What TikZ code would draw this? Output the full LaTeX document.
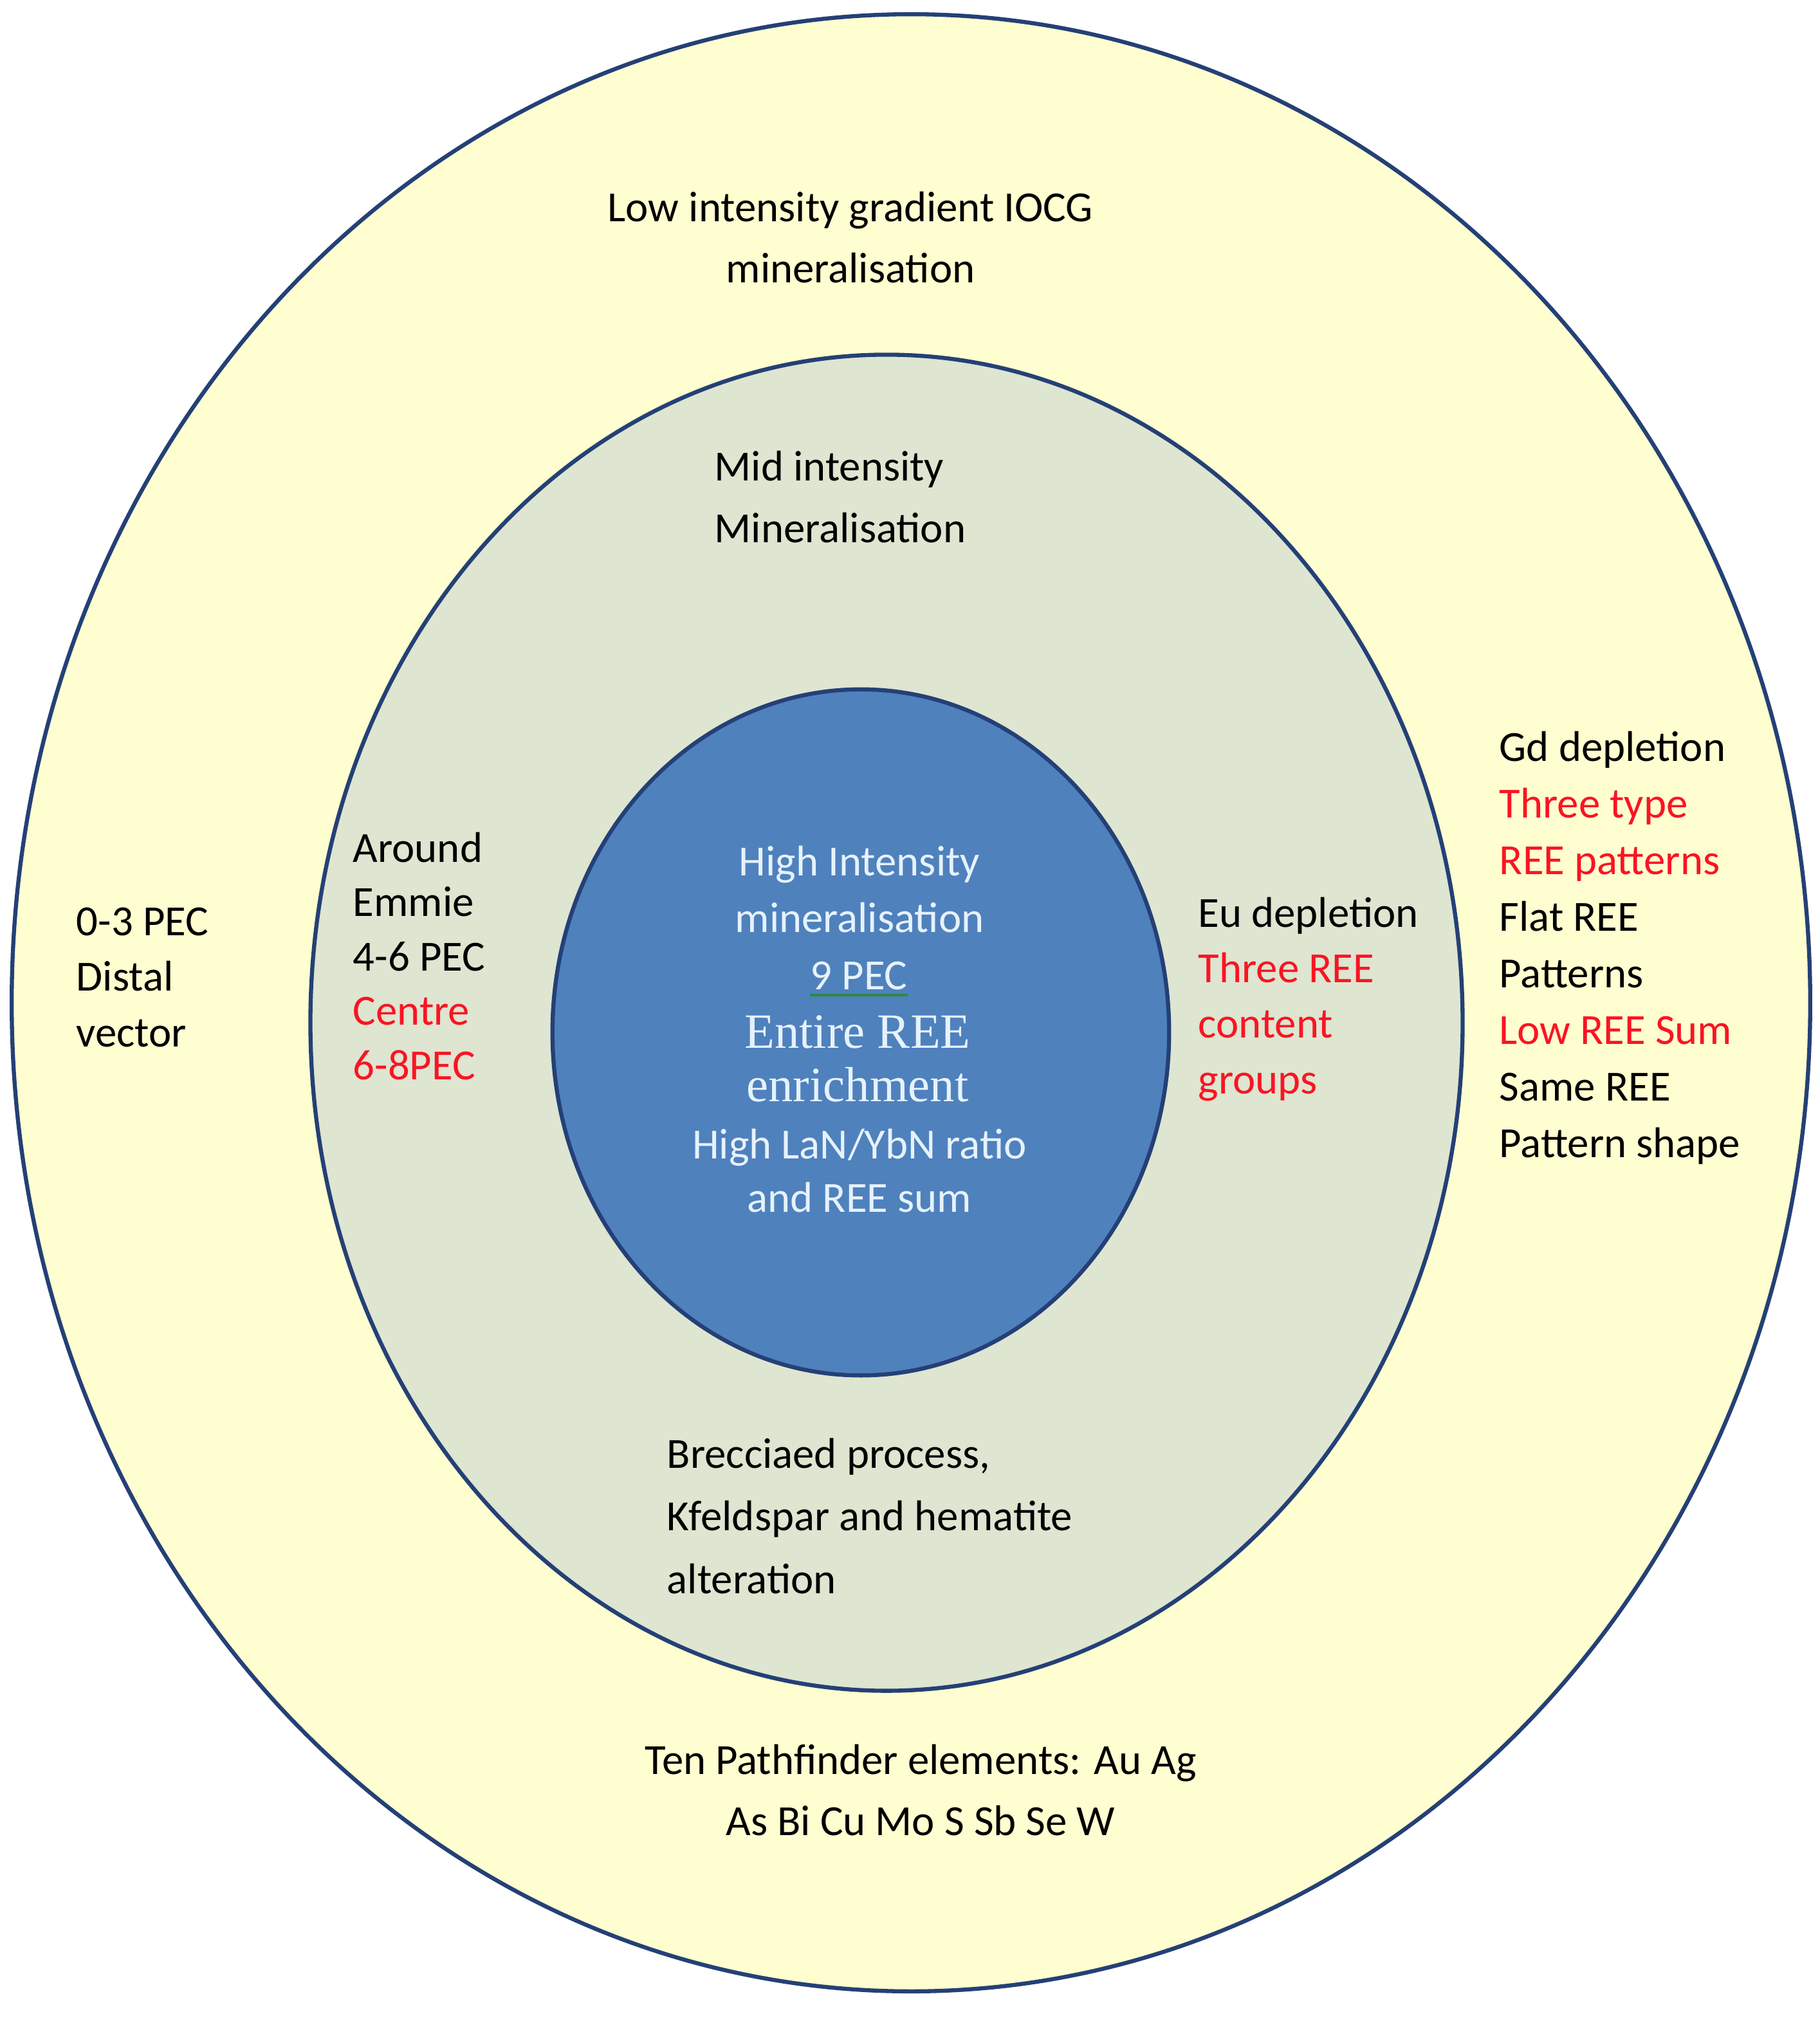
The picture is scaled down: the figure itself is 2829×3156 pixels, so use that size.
\documentclass[tikz,border=0pt]{standalone}
\usepackage{fontspec}
\setmainfont{Carlito}
\newfontfamily\serifface{Liberation Serif}
\usepackage{tikz}
\definecolor{rim}{RGB}{36,64,118}
\definecolor{outerzone}{RGB}{255,254,208}
\definecolor{midzone}{RGB}{222,229,208}
\definecolor{corezone}{RGB}{79,129,189}
\definecolor{corefg}{RGB}{230,242,252}
\definecolor{alert}{RGB}{250,20,35}
\definecolor{squiggle}{RGB}{40,140,60}
\tikzset{%
  zone/.style={draw=rim, line width=1.8pt},% ring outline
  ringtext/.style={inner sep=0pt, anchor=base west, align=left,
    font=\fontsize{19}{#1}\selectfont},% black labels in the rings
  ringtext/.default=24.5,
  centretext/.style={ringtext=#1, anchor=base, align=center},% centred labels
  coretext/.style={centretext=#1, text=corefg},% labels on the blue core
  coreserif/.style={coretext=#1, font=\serifface\fontsize{21.8}{#1}\selectfont}% big serif line
}
\newcommand*{\hot}[1]{{\color{alert}#1}}

\begin{document}
\begin{tikzpicture}[x=0.01cm, y=-0.01cm]
\useasboundingbox (0,0) rectangle (2829,3156);
\fill[white] (0,0) rectangle (2829,3156);

\draw[zone, fill=outerzone] (1416,1559) ellipse [x radius=13.97cm, y radius=15.36cm];
\draw[zone, fill=midzone] (1378,1590) ellipse [x radius=8.95cm, y radius=10.38cm];
\draw[zone, fill=corezone] (1338,1605) ellipse [x radius=4.79cm, y radius=5.33cm];

% nodes sit on the baseline of their last line
\node[centretext=27] (low) at (1322,439) {Low intensity gradient IOCG\\mineralisation};
\node[ringtext=27.3] (mid) at (1110,843) {Mid intensity\\Mineralisation};
\node[ringtext=24.5] (distal) at (118,1627) {0-3 PEC\\Distal\\vector};
\node[ringtext=24] (emmie) at (548,1678) {Around\\Emmie\\4-6 PEC\\\hot{Centre}\\\hot{6-8PEC}};
\node[ringtext=24.5] (eu) at (1862,1700) {Eu depletion\\\hot{Three REE}\\\hot{content}\\\hot{groups}};
\node[ringtext=25] (gd) at (2330,1799) {Gd depletion\\\hot{Three type}\\\hot{REE patterns}\\Flat REE\\Patterns\\\hot{Low REE Sum}\\Same REE\\Pattern shape};
\node[ringtext=27.6] (breccia) at (1036,2477) {Brecciaed process,\\Kfeldspar and hematite\\alteration};
\node[centretext=26.75] (path) at (1431,2853) {Ten Pathfinder elements: Au Ag\\As Bi Cu Mo S Sb Se W};

\node[coretext=24.75] (high) at (1336,1449) {High Intensity\\mineralisation};
\node[coretext] (nine) at (1335,1538) {9 PEC};
\draw[squiggle, line width=1pt] ([yshift=-2.5pt]nine.base west) -- ([yshift=-2.5pt]nine.base east);
\node[coreserif=23.6] (entire) at (1333,1712) {Entire REE\\enrichment};
\node[coretext=23.6] (ratio) at (1336,1884) {High LaN/YbN ratio\\and REE sum};
\end{tikzpicture}
\end{document}
